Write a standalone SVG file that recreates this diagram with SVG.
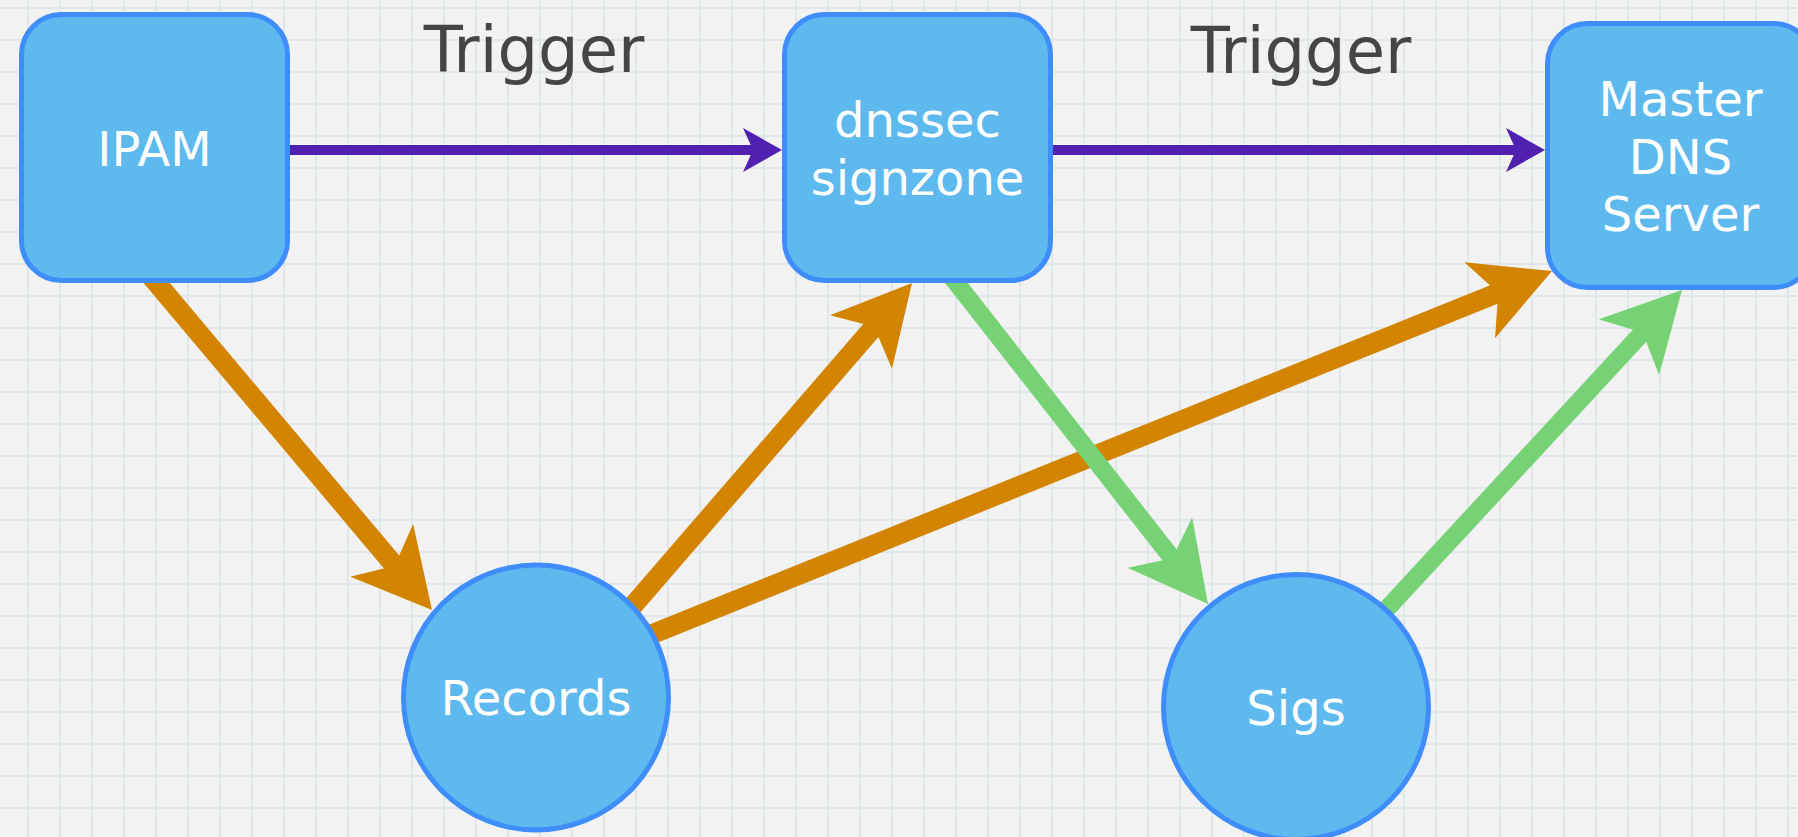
<svg xmlns="http://www.w3.org/2000/svg" width="1798" height="837" viewBox="0 0 1798 837">
  <style>
    .node { fill: #5db9ee; stroke: #3f8cfb; stroke-width: 5; }
    .label { font-family: "DejaVu Sans", Verdana, sans-serif; font-size: 48px; fill: #ffffff; text-anchor: middle; }
    .edge-label { font-family: "DejaVu Sans", Verdana, sans-serif; font-size: 64px; fill: #454545; text-anchor: middle; }
    .trigger { fill: none; stroke: #5020b0; stroke-width: 10; }
    .data { fill: none; stroke: #d38400; stroke-width: 20; }
    .sig { fill: none; stroke: #76d275; stroke-width: 18; }
  </style>
  <defs>
    <pattern id="grid" patternUnits="userSpaceOnUse" x="12" y="-8" width="32" height="32">
      <rect x="15" y="0" width="2" height="32" fill="#dfe7eb"/>
      <rect x="0" y="15" width="32" height="2" fill="#dfe7eb"/>
    </pattern>
    <marker id="headPurple" markerUnits="userSpaceOnUse" viewBox="0 0 39 44" markerWidth="39" markerHeight="44" refX="15" refY="22" orient="auto">
      <path d="M0,0 L39,22 L0,44 L10,22 Z" fill="#5020b0"/>
    </marker>
    <marker id="headOrange" markerUnits="userSpaceOnUse" viewBox="0 0 78 82" markerWidth="78" markerHeight="82" refX="30" refY="41" orient="auto">
      <path d="M0,0 L78,41 L0,82 L20,41 Z" fill="#d38400"/>
    </marker>
    <marker id="headGreen" markerUnits="userSpaceOnUse" viewBox="0 0 78 82" markerWidth="78" markerHeight="82" refX="30" refY="41" orient="auto">
      <path d="M0,0 L78,41 L0,82 L20,41 Z" fill="#76d275"/>
    </marker>
  </defs>

  <rect width="1798" height="837" fill="#f2f2f2"/>
  <rect width="1798" height="837" fill="url(#grid)"/>

  <g id="connectors">
    <line class="trigger" x1="288" y1="150" x2="758" y2="150" marker-end="url(#headPurple)"/>
    <line class="trigger" x1="1051" y1="150" x2="1521" y2="150" marker-end="url(#headPurple)"/>
    <line class="data" x1="150" y1="275" x2="401.1" y2="573.3" marker-end="url(#headOrange)"/>
    <line class="data" x1="554" y1="697" x2="880.6" y2="319.3" marker-end="url(#headOrange)"/>
    <line class="data" x1="536" y1="681" x2="1507.5" y2="289" marker-end="url(#headOrange)"/>
    <line class="sig" x1="940" y1="262" x2="1178.4" y2="566.2" marker-end="url(#headGreen)"/>
    <line class="sig" x1="1296" y1="707" x2="1649.4" y2="325.2" marker-end="url(#headGreen)"/>
  </g>

  <g id="labels">
    <text class="edge-label" x="534" y="72">Trigger</text>
    <text class="edge-label" x="1301" y="73">Trigger</text>
  </g>

  <g id="ipam">
    <rect class="node" x="21.5" y="14.5" width="266" height="266" rx="40"/>
    <text class="label" x="154.5" y="166">IPAM</text>
  </g>
  <g id="dnssec-signzone">
    <rect class="node" x="784.5" y="14.5" width="266" height="266" rx="40"/>
    <text class="label" x="917.5" y="137">dnssec</text>
    <text class="label" x="917.5" y="195">signzone</text>
  </g>
  <g id="master-dns-server">
    <rect class="node" x="1547.5" y="23.5" width="266" height="264" rx="40"/>
    <text class="label" x="1680.5" y="116">Master</text>
    <text class="label" x="1680.5" y="173.5">DNS</text>
    <text class="label" x="1680.5" y="231">Server</text>
  </g>
  <g id="records">
    <circle class="node" cx="536" cy="697.5" r="132.5"/>
    <text class="label" x="536" y="715">Records</text>
  </g>
  <g id="sigs">
    <circle class="node" cx="1296" cy="707" r="132.5"/>
    <text class="label" x="1296" y="725">Sigs</text>
  </g>
</svg>
